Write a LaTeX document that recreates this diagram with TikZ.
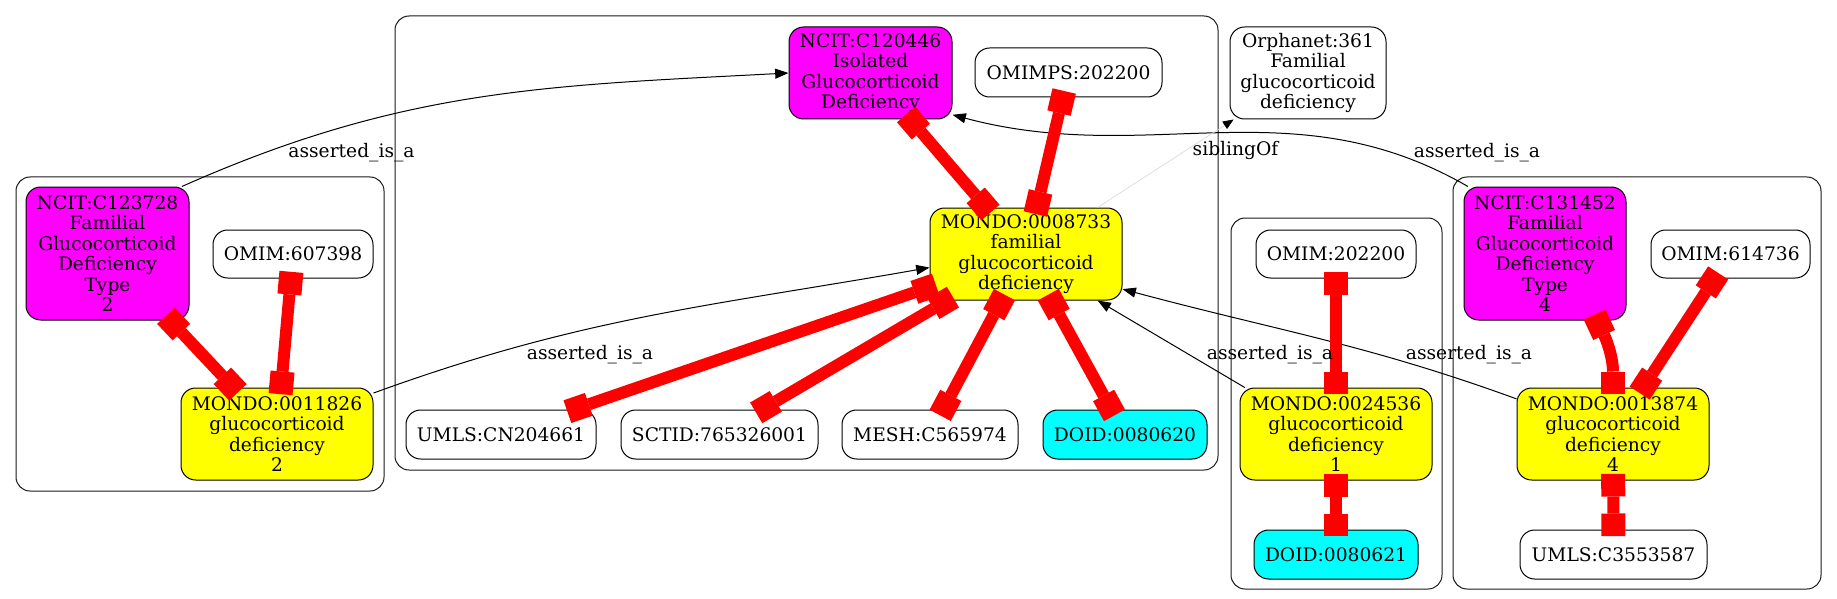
\documentclass[tikz,border=0pt]{standalone}
\usepackage{fontspec}
\setmainfont{DejaVu Serif}
\usetikzlibrary{arrows.meta}
\definecolor{gvmag}{RGB}{255,0,255}
\definecolor{gvyel}{RGB}{255,255,0}
\definecolor{gvcya}{RGB}{0,255,255}
\definecolor{gvred}{RGB}{255,0,0}
\begin{document}
\begin{tikzpicture}[x=0.75pt,y=-0.75pt,
  txt/.style={font=\fontsize{14}{15.3}\selectfont},
  nbox/.style={txt, draw=black, line width=0.75pt, rounded corners=11pt, inner sep=0pt, align=center},
  sz/.style 2 args={minimum width=#1*0.75pt, minimum height=#2*0.75pt},
  mag/.style={nbox, fill=gvmag},
  yel/.style={nbox, fill=gvyel},
  cya/.style={nbox, fill=gvcya},
  wht/.style={nbox, fill=white},
  clus/.style={draw=black!90, line width=0.75pt, rounded corners=10.5pt},
  rededge/.style={draw=gvred, line width=9pt,
    {Square[length=17pt,width=18pt,line width=0pt]}-{Square[length=17pt,width=18pt,line width=0pt]},
    shorten <=-5pt, shorten >=-5pt},
  isa/.style={draw=black, line width=0.75pt, -{Triangle[length=10pt,width=7.5pt]}},
  sib/.style={draw=black!15, line width=0.5pt, -{Triangle[length=8pt,width=6.5pt,color=black,fill=black]}},
  lbl/.style={txt, inner sep=0pt, anchor=base}
]
\useasboundingbox (0,0) rectangle (1837,599);

% clusters
\draw[clus] (16,177) rectangle (384,491);
\draw[clus] (395,16) rectangle (1218,470);
\draw[clus] (1231,218) rectangle (1442,589);
\draw[clus] (1453,177) rectangle (1821,589);

% nodes
\node[mag, sz={163}{133}] (n123728) at (107.5,253.5) {NCIT:C123728\\Familial\\Glucocorticoid\\Deficiency\\Type\\2};
\node[wht, sz={160}{48}] (o607398) at (293,254) {OMIM:607398};
\node[yel, sz={192}{92}] (m11826) at (277,434) {MONDO:0011826\\glucocorticoid\\deficiency\\2};

\node[mag, sz={163}{92}] (n120446) at (870.5,73) {NCIT:C120446\\Isolated\\Glucocorticoid\\Deficiency};
\node[wht, sz={187}{49}] (omimps) at (1068.5,72.5) {OMIMPS:202200};
\node[yel, sz={192}{92}] (m8733) at (1026,254) {MONDO:0008733\\familial\\glucocorticoid\\deficiency};
\node[wht, sz={190}{49}] (umlscn) at (501,434.5) {UMLS:CN204661};
\node[wht, sz={197}{49}] (sctid) at (719.5,434.5) {SCTID:765326001};
\node[wht, sz={176}{49}] (mesh) at (930,434.5) {MESH:C565974};
\node[cya, sz={164}{49}] (doid620) at (1125,434.5) {DOID:0080620};

\node[wht, sz={156}{92}] (orph) at (1308,73) {Orphanet:361\\Familial\\glucocorticoid\\deficiency};

\node[wht, sz={160}{48}] (o202200) at (1336,254) {OMIM:202200};
\node[yel, sz={192}{92}] (m24536) at (1336,434) {MONDO:0024536\\glucocorticoid\\deficiency\\1};
\node[cya, sz={164}{49}] (doid621) at (1336,554.5) {DOID:0080621};

\node[mag, sz={162}{133}] (n131452) at (1545,253.5) {NCIT:C131452\\Familial\\Glucocorticoid\\Deficiency\\Type\\4};
\node[wht, sz={159}{48}] (o614736) at (1730.5,254) {OMIM:614736};
\node[yel, sz={192}{92}] (m13874) at (1613,434) {MONDO:0013874\\glucocorticoid\\deficiency\\4};
\node[wht, sz={187}{49}] (umlsc3) at (1613.5,554.5) {UMLS:C3553587};

% black is_a edges
\draw[isa] (n123728.42) to[out=24,in=183] (n120446.west);
\draw[isa] (m11826.23) to[out=20,in=190] (m8733.188);
\draw[isa] (n131452.139.5) to[out=150,in=-15] (n120446.-27);
\draw[isa] (m24536.153) -- (m8733.-33);
\draw[isa] (m13874.160) to[out=160,in=-15] (m8733.-20);
\draw[sib] (m8733.33) -- (orph.212);

% red edges
\draw[rededge] (n123728) -- (m11826);
\draw[rededge] (o607398) -- (m11826);
\draw[rededge] (n120446) -- (m8733);
\draw[rededge] (omimps) -- (m8733);
\draw[rededge] (m8733) -- (umlscn);
\draw[rededge] (m8733) -- (sctid);
\draw[rededge] (m8733) -- (mesh);
\draw[rededge] (m8733) -- (doid620);
\draw[rededge] (o202200) -- (m24536);
\draw[rededge] (m24536) -- (doid621);
\draw[rededge] (n131452.-52) to[out=-65,in=90] (m13874.north);
\draw[rededge] (o614736) -- (m13874);
\draw[rededge] (m13874) -- (umlsc3);

% labels
\node[lbl] (l1) at (351.5,158) {asserted\_is\_a};
\node[lbl] (l2) at (590,359) {asserted\_is\_a};
\node[lbl] (l3) at (1235.5,156) {siblingOf};
\node[lbl] (l4) at (1477,158) {asserted\_is\_a};
\node[lbl] (l5) at (1270,359) {asserted\_is\_a};
\node[lbl] (l6) at (1469,359) {asserted\_is\_a};
\end{tikzpicture}
\end{document}
